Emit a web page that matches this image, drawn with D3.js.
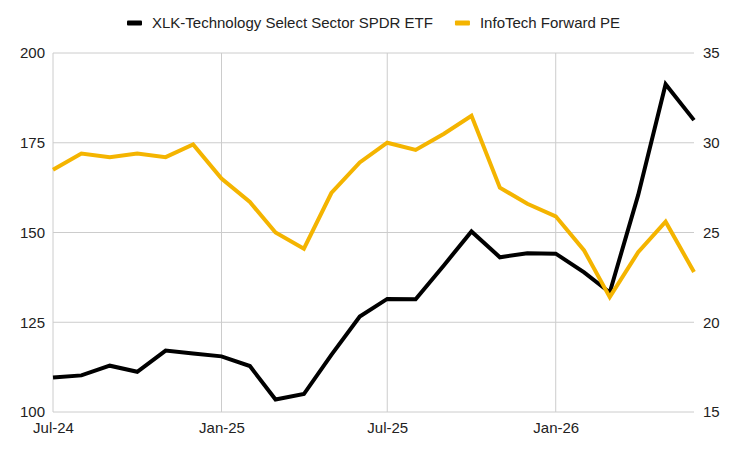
<!DOCTYPE html>
<html>
<head>
<meta charset="utf-8">
<script src="https://cdn.jsdelivr.net/npm/d3@7"></script>
<style>
  body { margin: 0; background: #fff; }
  text { font-family: "Liberation Sans", Arial, sans-serif; font-size: 15px; fill: #222; }
</style>
</head>
<body>
<div id="chart"></div>
<script>
const width = 733, height = 450;
const margin = {top: 53, right: 39, bottom: 38, left: 53};

// monthly points, Jul-24 .. Jun-26
const months = ["2024-07","2024-08","2024-09","2024-10","2024-11","2024-12",
	"2025-01","2025-02","2025-03","2025-04","2025-05","2025-06",
	"2025-07","2025-08","2025-09","2025-10","2025-11","2025-12",
	"2026-01","2026-02","2026-03","2026-04","2026-05","2026-06"];

// XLK price (left axis)
const xlk = [109.6, 110.2, 112.9, 111.2, 117.1, 116.3,
	115.5, 112.8, 103.5, 105.0, 115.9, 126.6,
	131.5, 131.4, 140.9, 150.3, 143.1, 144.2,
	144.1, 138.9, 133.3, 160.4, 191.3, 181.3];

// InfoTech forward PE (right axis)
const fwdPE = [28.5, 29.4, 29.2, 29.4, 29.2, 29.9,
	28.0, 26.7, 25.0, 24.1, 27.2, 28.9,
	30.0, 29.6, 30.5, 31.5, 27.5, 26.6,
	25.9, 24.0, 21.4, 23.9, 25.6, 22.8];

const leftTicks = [100, 125, 150, 175, 200];
const rightTicks = [15, 20, 25, 30, 35];
const xTicks = ["2024-07", "2025-01", "2025-07", "2026-01"];

const seriesNames = ["XLK-Technology Select Sector SPDR ETF", "InfoTech Forward PE"];
const colors = ["#000000", "#f4b400"];

const parseMonth = d3.timeParse("%Y-%m");
const dates = months.map(parseMonth);

const svg = d3.select("#chart")
	.append("svg")
	.attr("width", width)
	.attr("height", height);

const x = d3.scaleTime()
	.domain([dates[0], dates[dates.length - 1]])
	.range([margin.left, width - margin.right]);

const yLeft = d3.scaleLinear()
	.domain([100, 200])
	.range([height - margin.bottom, margin.top]);

const yRight = d3.scaleLinear()
	.domain([15, 35])
	.range([height - margin.bottom, margin.top]);

// horizontal grid
svg.append("g")
	.selectAll("line")
	.data(leftTicks)
	.join("line")
	.attr("x1", margin.left)
	.attr("x2", width - margin.right)
	.attr("y1", d => yLeft(d))
	.attr("y2", d => yLeft(d))
	.attr("stroke", "#cccccc")
	.attr("stroke-width", 1);

// vertical grid
svg.append("g")
	.selectAll("line")
	.data(xTicks.map(parseMonth))
	.join("line")
	.attr("x1", d => x(d))
	.attr("x2", d => x(d))
	.attr("y1", margin.top)
	.attr("y2", height - margin.bottom)
	.attr("stroke", "#cccccc")
	.attr("stroke-width", 1);

// left axis labels
const leftAxis = svg.append("g")
	.attr("transform", `translate(${margin.left - 8},0)`)
	.call(d3.axisLeft(yLeft).tickValues(leftTicks).tickSize(0).tickPadding(0));
leftAxis.select(".domain").remove();

// right axis labels
const rightAxis = svg.append("g")
	.attr("transform", `translate(${width - margin.right + 9},0)`)
	.call(d3.axisRight(yRight).tickValues(rightTicks).tickSize(0).tickPadding(0));
rightAxis.select(".domain").remove();

// x axis labels
const bottomAxis = svg.append("g")
	.attr("transform", `translate(0,${height - margin.bottom + 10})`)
	.call(d3.axisBottom(x).tickValues(xTicks.map(parseMonth))
		.tickFormat(d3.timeFormat("%b-%y")).tickSize(0).tickPadding(0));
bottomAxis.select(".domain").remove();

svg.selectAll(".tick text")
	.attr("fill", "#222")
	.style("font-size", "15px")
	.style("font-family", "'Liberation Sans', Arial, sans-serif");

// lines
const lineLeft = d3.line()
	.x((d, i) => x(dates[i]))
	.y(d => yLeft(d));

const lineRight = d3.line()
	.x((d, i) => x(dates[i]))
	.y(d => yRight(d));

svg.append("path")
	.datum(xlk)
	.attr("d", lineLeft)
	.attr("fill", "none")
	.attr("stroke", colors[0])
	.attr("stroke-width", 4);

svg.append("path")
	.datum(fwdPE)
	.attr("d", lineRight)
	.attr("fill", "none")
	.attr("stroke", colors[1])
	.attr("stroke-width", 4);

// legend
const legend = svg.append("g").attr("transform", "translate(0,23)");
let lx = 127;
seriesNames.forEach(function(name, i) {
	legend.append("rect")
		.attr("x", lx)
		.attr("y", -2.5)
		.attr("width", 15)
		.attr("height", 5)
		.attr("rx", 1)
		.attr("fill", colors[i]);
	const t = legend.append("text")
		.attr("x", lx + 25)
		.attr("dy", "0.35em")
		.text(name);
	lx += 25 + t.node().getComputedTextLength() + 22;
});
</script>
</body>
</html>
